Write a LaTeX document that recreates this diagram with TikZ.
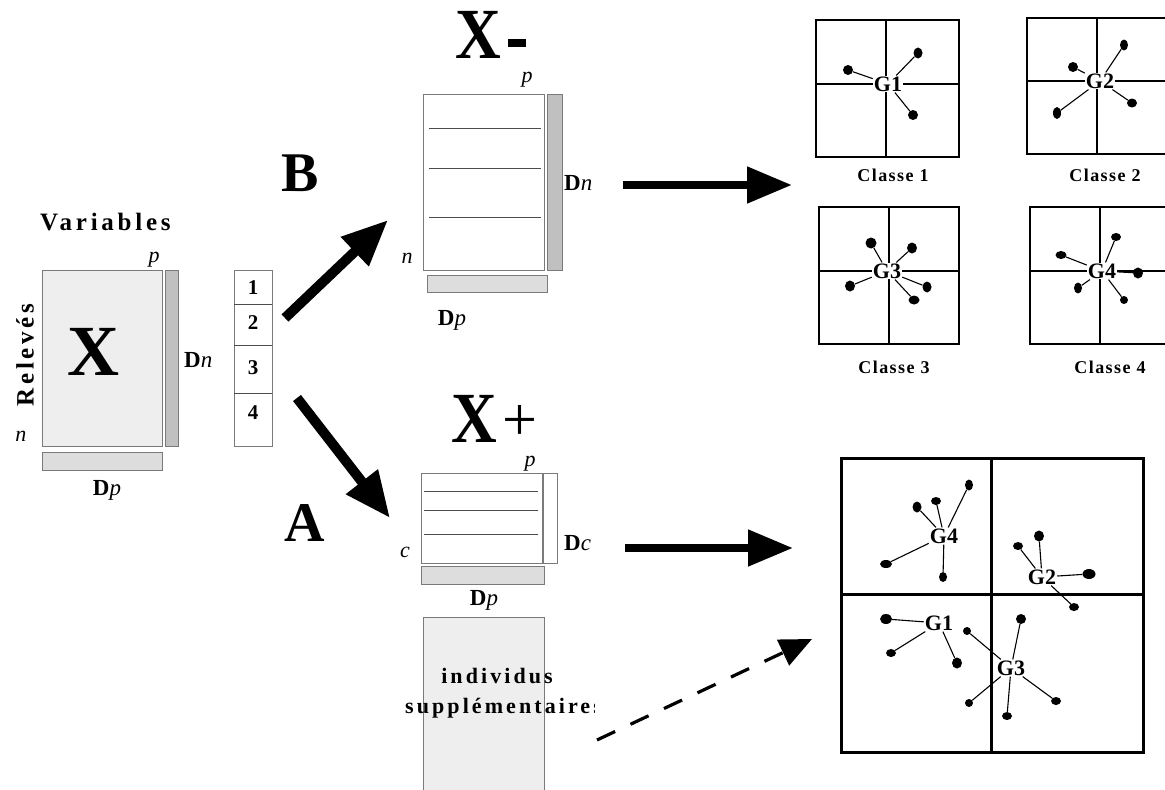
\documentclass[tikz,border=0pt]{standalone}
\usepackage{fontspec}
\setmainfont{Liberation Serif}
\usetikzlibrary{arrows.meta,shapes.geometric}

\definecolor{panel}{HTML}{EEEEEE}
\definecolor{barlight}{HTML}{DDDDDD}
\definecolor{bardark}{HTML}{C0C0C0}
\definecolor{edge}{HTML}{7A7A7A}

\begin{document}
\begin{tikzpicture}[x=1pt,y=-1pt,
  mat/.style={draw=edge, line width=0.9pt, rectangle, inner sep=0pt},
  row/.style={draw=black!70, line width=0.8pt},
  lbl/.style={inner sep=0pt, font=\fontsize{23}{23}\selectfont},
  ital/.style={inner sep=0pt, font=\fontsize{22}{22}\selectfont\itshape},
  bnum/.style={inner sep=0pt, font=\fontsize{21}{21}\selectfont\bfseries},
  spaced/.style={inner sep=0pt, font=\fontsize{25}{25}\selectfont\bfseries\addfontfeature{LetterSpace=15}},
  indiv/.style={inner sep=0pt, font=\fontsize{22}{22}\selectfont\bfseries\addfontfeature{LetterSpace=14}},
  classe/.style={inner sep=0pt, font=\fontsize{18}{18}\selectfont\bfseries\addfontfeature{LetterSpace=8}},
  huge/.style={inner sep=0pt, font=\fontsize{72}{72}\selectfont\bfseries},
  letter/.style={inner sep=0pt, font=\fontsize{56}{56}\selectfont\bfseries},
  bigarr/.style={line width=10pt, -{Triangle[length=46pt 0 0, width=38pt 0 0]}},
  sidearr/.style={line width=8pt, -{Triangle[length=45pt 0 0, width=35pt 0 0]}},
  dasharr/.style={line width=3.2pt, dash pattern=on 20pt off 17pt, -{Triangle[length=32pt 0 0, width=28pt 0 0]}},
  thinframe/.style={draw=black, line width=1.3pt},
  thickframe/.style={draw=black, line width=3pt},
  gnode/.style={fill=white, inner sep=1pt, font=\fontsize{22}{22}\selectfont\bfseries},
  gbig/.style={inner sep=1pt, font=\fontsize{22}{22}\selectfont\bfseries},
  dot/.style={ellipse, fill=black, inner sep=0pt, minimum width=#1},
  spoke/.style={line width=1.1pt}
]
\useasboundingbox (0,0) rectangle (1165,790);

% ---------- data matrix X ----------
\node[mat, fill=panel, minimum width=120, minimum height=176] (X) at (102,358) {};
\node[mat, fill=bardark, minimum width=13, minimum height=176] (Xdn) at (171.5,358) {};
\node[mat, fill=barlight, minimum width=120, minimum height=18] (Xdp) at (102,461) {};
\node[huge] (Xlab) at (93,352) {X};
\node[spaced, rotate=90] (relev) at (25,355) {Relevés};
\begin{scope}
  \clip (0,190) rectangle (174,245);
  \node[spaced, anchor=base west] (vars) at (40,230) {Variables};
\end{scope}
\node[ital, anchor=base] (Xp) at (154,262) {p};
\node[ital, anchor=base] (Xn) at (21,441) {n};
\node[lbl, anchor=west] (XDn) at (184,360) {\textbf{D}\textit{n}};
\node[lbl] (XDp) at (107,490) {\textbf{D}\textit{p}};

% ---------- class column ----------
\node[mat, fill=white, minimum width=38, minimum height=176] (col) at (253,358) {};
\draw[row] (234,304) -- (272,304) (234,345) -- (272,345) (234,393) -- (272,393);
\node[bnum] (c1) at (253,288) {1};
\node[bnum] (c2) at (253,323) {2};
\node[bnum] (c3) at (253,368) {3};
\node[bnum] (c4) at (253,413) {4};

% ---------- branch arrows ----------
\coordinate (bT) at (285,318);
\coordinate (bH) at (388,220);
\coordinate (aT) at (297,398);
\coordinate (aH) at (390,518);
\draw[bigarr] (bT) -- (bH);
\draw[bigarr] (aT) -- (aH);
\node[letter] (B) at (300,173) {B};
\node[letter] (A) at (305,523) {A};

% ---------- matrix X- ----------
\node[mat, fill=white, minimum width=121, minimum height=176] (Xm) at (483.5,182) {};
\draw[row] (429,128) -- (541,128) (429,168) -- (541,168) (429,217) -- (541,217);
\node[mat, fill=bardark, minimum width=15, minimum height=176] (Xmdn) at (554.5,182) {};
\node[mat, fill=barlight, minimum width=120, minimum height=17] (Xmdp) at (487,283.5) {};
\node[huge] (Xmlab) at (478.5,35) {\scalebox{0.88}[1]{X}};
\fill (508,39) rectangle (526,47);
\node[ital, anchor=base] (Xmp) at (527,82) {p};
\node[ital, anchor=base] (Xmn) at (407,263) {n};
\node[lbl, anchor=west] (XmDn) at (564,183) {\textbf{D}\textit{n}};
\node[lbl] (XmDp) at (452,320) {\textbf{D}\textit{p}};

% ---------- matrix X+ ----------
\node[mat, fill=white, minimum width=121, minimum height=90] (Xp) at (481.5,518) {};
\draw[row] (424,491) -- (538,491) (424,510) -- (538,510) (424,534) -- (538,534);
\node[mat, fill=white, minimum width=14, minimum height=90] (Xpdc) at (550,518) {};
\node[mat, fill=barlight, minimum width=123, minimum height=18] (Xpdp) at (482.5,575) {};
\node[huge] (Xplab) at (474,419) {\scalebox{0.88}[1]{X}};
\node[inner sep=0pt, anchor=base, font=\fontsize{62}{62}\selectfont] (plus) at (520,440) {\raisebox{0pt}[\height][0pt]{+}};
\node[ital, anchor=base] (Xpp) at (530,466) {p};
\node[ital, anchor=base] (Xpc) at (405,557) {c};
\node[lbl, anchor=west] (XpDc) at (564,543) {\textbf{D}\textit{c}};
\node[lbl] (XpDp) at (484,600) {\textbf{D}\textit{p}};

% ---------- supplementary individuals ----------
\node[mat, fill=panel, minimum width=121, minimum height=183] (sup) at (483.5,708.5) {};
\begin{scope}
  \clip (380,650) rectangle (594,730);
  \node[indiv, anchor=base] (ind1) at (497,683) {individus};
  \node[indiv, anchor=base west] (ind2) at (405,713) {supplémentaires};
\end{scope}

% ---------- arrows to the plots ----------
\coordinate (tT) at (623,185);
\coordinate (tH) at (792,185);
\coordinate (mT) at (625,548);
\coordinate (mH) at (793,548);
\coordinate (dT) at (597,740);
\coordinate (dH) at (812,639);
\draw[sidearr] (tT) -- (tH);
\draw[sidearr] (mT) -- (mH);
\draw[dasharr] (dT) -- (dH);

% ---------- class 1 ----------
\draw[thinframe] (816,20) rectangle (959,157);
\draw[thinframe] (886,20) -- (886,157) (816,84) -- (959,84);
\node[gnode] (g1) at (888,84) {G1};
\node[dot=10, minimum height=10] (p11) at (848,70) {};
\node[dot=9, minimum height=11] (p12) at (918,53) {};
\node[dot=10, minimum height=10] (p13) at (913,115) {};
\foreach \p in {p11,p12,p13} \draw[spoke] (\p) -- (g1);
\node[classe] (cl1) at (893,175) {Classe 1};

% ---------- class 2 ----------
\draw[thinframe] (1027,18) rectangle (1167,154);
\draw[thinframe] (1097,18) -- (1097,154) (1027,81) -- (1167,81);
\node[gnode] (g2) at (1100,81) {G2};
\node[dot=10, minimum height=10] (p21) at (1073,67) {};
\node[dot=8, minimum height=11] (p22) at (1124,45) {};
\node[dot=8, minimum height=12] (p23) at (1057,113) {};
\node[dot=10, minimum height=9] (p24) at (1132,103) {};
\foreach \p in {p21,p22,p23,p24} \draw[spoke] (\p) -- (g2);
\node[classe] (cl2) at (1105,175) {Classe 2};

% ---------- class 3 ----------
\draw[thinframe] (819,207) rectangle (959,344);
\draw[thinframe] (889,207) -- (889,344) (819,271) -- (959,271);
\node[gnode] (g3) at (887,271) {G3};
\node[dot=11, minimum height=11] (p31) at (871,243) {};
\node[dot=10, minimum height=11] (p32) at (912,248) {};
\node[dot=10, minimum height=11] (p33) at (850,286) {};
\node[dot=9, minimum height=11] (p34) at (927,287) {};
\node[dot=11, minimum height=9] (p35) at (914,300) {};
\foreach \p in {p31,p32,p33,p34,p35} \draw[spoke] (\p) -- (g3);
\node[classe] (cl3) at (894,367) {Classe 3};

% ---------- class 4 ----------
\draw[thinframe] (1030,207) rectangle (1170,344);
\draw[thinframe] (1100,207) -- (1100,344) (1030,271) -- (1170,271);
\node[gnode] (g4) at (1102,271) {G4};
\node[dot=11, minimum height=8] (p41) at (1061,255) {};
\node[dot=10, minimum height=8] (p42) at (1116,237) {};
\node[dot=10, minimum height=11] (p43) at (1138,273) {};
\node[dot=8, minimum height=11] (p44) at (1078,288) {};
\node[dot=8, minimum height=8] (p45) at (1124,300) {};
\foreach \p in {p41,p42,p43,p44,p45} \draw[spoke] (\p) -- (g4);
\node[classe] (cl4) at (1110,367) {Classe 4};

% ---------- combined plane ----------
\draw[thickframe] (841,458) rectangle (1143,752);
\draw[thickframe] (991,458) -- (991,752) (841,594) -- (1143,594);

\node[gbig] (h4) at (944,536) {G4};
\node[dot=9, minimum height=11] (q41) at (917,507) {};
\node[dot=10, minimum height=8] (q42) at (936,501) {};
\node[dot=8, minimum height=11] (q43) at (969,485) {};
\node[dot=12, minimum height=8] (q44) at (886,564) {};
\node[dot=8, minimum height=10] (q45) at (943,577) {};
\foreach \p in {q41,q42,q43,q44,q45} \draw[spoke] (\p) -- (h4);

\node[gbig] (h2) at (1042,577) {G2};
\node[dot=10, minimum height=8] (q21) at (1018,546) {};
\node[dot=10, minimum height=11] (q22) at (1039,536) {};
\node[dot=13, minimum height=10] (q23) at (1089,574) {};
\node[dot=10, minimum height=8] (q24) at (1074,607) {};
\foreach \p in {q21,q22,q23,q24} \draw[spoke] (\p) -- (h2);

\node[gbig] (h1) at (939,623) {G1};
\node[dot=12, minimum height=10] (q11) at (886,619) {};
\node[dot=10, minimum height=8] (q12) at (891,653) {};
\node[dot=10, minimum height=11] (q13) at (957,663) {};
\foreach \p in {q11,q12,q13} \draw[spoke] (\p) -- (h1);

\node[gbig] (h3) at (1011,668) {G3};
\node[dot=8, minimum height=8] (q31) at (967,631) {};
\node[dot=10, minimum height=10] (q32) at (1021,619) {};
\node[dot=8, minimum height=8] (q33) at (969,703) {};
\node[dot=10, minimum height=8] (q34) at (1007,716) {};
\node[dot=10, minimum height=8] (q35) at (1056,701) {};
\foreach \p in {q31,q32,q33,q34,q35} \draw[spoke] (\p) -- (h3);
\end{tikzpicture}
\end{document}
